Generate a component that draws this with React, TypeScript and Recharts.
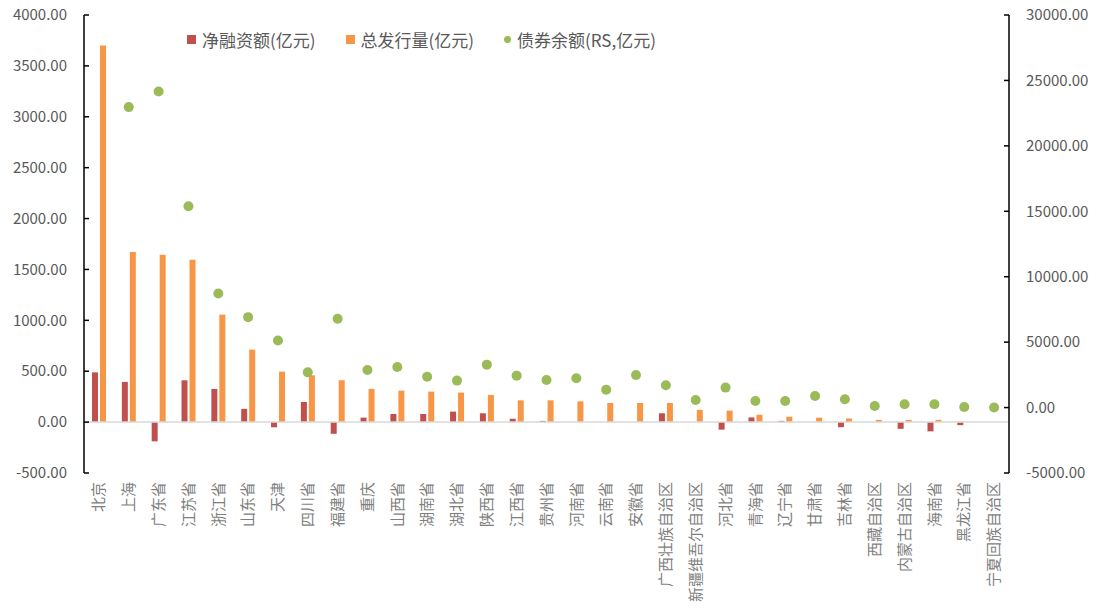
import {
    ComposedChart,
    Bar,
    Scatter,
    XAxis,
    YAxis,
    ReferenceLine,
} from 'recharts';

const categories = [
    '北京', '上海', '广东省', '江苏省', '浙江省', '山东省', '天津', '四川省', '福建省', '重庆',
    '山西省', '湖南省', '湖北省', '陕西省', '江西省', '贵州省', '河南省', '云南省', '安徽省',
    '广西壮族自治区', '新疆维吾尔自治区', '河北省', '青海省', '辽宁省', '甘肃省', '吉林省',
    '西藏自治区', '内蒙古自治区', '海南省', '黑龙江省', '宁夏回族自治区',
];

// 净融资额(亿元)
const netFinancing = [
    489, 395, -189, 411, 326, 130, -51, 198, -115, 44,
    80, 80, 103, 87, 34, 12, 0, 0, 0,
    87, 0, -74, 46, 12, 0, -50,
    0, -66, -91, -30, 0,
];

// 总发行量(亿元)
const totalIssuance = [
    3700, 1672, 1645, 1596, 1056, 712, 496, 460, 411, 326,
    309, 300, 290, 267, 214, 214, 204, 188, 188,
    188, 120, 113, 72, 53, 44, 36,
    22, 22, 22, 0, 0,
];

// 债券余额(RS,亿元)
const bondBalance = [
    null, 22960, 24150, 15380, 8720, 6910, 5130, 2690, 6790, 2870,
    3100, 2360, 2060, 3280, 2440, 2110, 2235, 1370, 2490,
    1700, 580, 1525, 505, 505, 890, 635,
    125, 250, 250, 50, 0,
];

const leftTicks = [-500, 0, 500, 1000, 1500, 2000, 2500, 3000, 3500, 4000];
const rightTicks = [-5000, 0, 5000, 10000, 15000, 20000, 25000, 30000];

const legendItems = [
    { name: '净融资额(亿元)', color: '#C0504D', shape: 'square' },
    { name: '总发行量(亿元)', color: '#F79646', shape: 'square' },
    { name: '债券余额(RS,亿元)', color: '#9BBB59', shape: 'circle' },
];

const data = categories.map((name, i) => ({
    name,
    net: netFinancing[i],
    total: totalIssuance[i],
    balance: bondBalance[i],
}));

const FONT = '"Noto Sans CJK SC", "Noto Sans", sans-serif';

const LeftTick = ({ x, y, payload }: any) => (
    <g>
        <line x1={x} x2={x + 5} y1={y} y2={y} stroke="#000" strokeWidth={1.5} />
        <text x={x - 17} y={y} dy="0.35em" textAnchor="end" fill="#595959" fontSize={15} fontFamily={FONT}>
            {Number(payload.value).toFixed(2)}
        </text>
    </g>
);

const RightTick = ({ x, y, payload }: any) => (
    <g>
        <line x1={x - 5} x2={x} y1={y} y2={y} stroke="#000" strokeWidth={1.5} />
        <text x={x + 17} y={y} dy="0.35em" textAnchor="start" fill="#595959" fontSize={15} fontFamily={FONT}>
            {Number(payload.value).toFixed(2)}
        </text>
    </g>
);

const CategoryTick = ({ x, y, payload }: any) => {
    const ty = y + 1;
    return (
        <text
            x={x}
            y={ty}
            dy="0.35em"
            transform={`rotate(-90, ${x}, ${ty})`}
            textAnchor="end"
            fill="#7F7F7F"
            fontSize={15}
            fontFamily={FONT}
        >
            {payload.value}
        </text>
    );
};

const BalanceDot = (props: any) => {
    if (props.payload == null || props.payload.balance == null) return null;
    return <circle cx={props.cx} cy={props.cy} r={5} fill="#9BBB59" />;
};

// legend drawn outside the chart so it doesn't push the plot down
const ChartLegend = () => (
    <div
        style={{
            position: 'absolute',
            top: 27,
            left: 187,
            display: 'flex',
            alignItems: 'center',
            fontFamily: FONT,
            fontSize: 17,
            color: '#595959',
            whiteSpace: 'nowrap',
        }}
    >
        {legendItems.map((item) => (
            <div key={item.name} style={{ display: 'flex', alignItems: 'center', marginRight: 30 }}>
                <span
                    style={{
                        display: 'inline-block',
                        width: item.shape === 'circle' ? 7 : 9,
                        height: item.shape === 'circle' ? 7 : 9,
                        borderRadius: item.shape === 'circle' ? '50%' : 0,
                        background: item.color,
                        marginRight: 6,
                    }}
                />
                <span>{item.name}</span>
            </div>
        ))}
    </div>
);

export default function App() {
    return (
        <div style={{ position: 'absolute', left: 0, top: 0, width: 1096, height: 616, background: '#fff' }}>
            <ComposedChart
                width={1096}
                height={616}
                data={data}
                margin={{ top: 15, right: 0, bottom: 0, left: 0 }}
                barSize={6}
                barGap={2}
            >
                <XAxis
                    dataKey="name"
                    height={143}
                    axisLine={false}
                    tickLine={false}
                    interval={0}
                    tick={<CategoryTick />}
                />
                <YAxis
                    yAxisId="left"
                    orientation="left"
                    width={84}
                    domain={[-500, 4000]}
                    ticks={leftTicks}
                    allowDataOverflow
                    axisLine={{ stroke: '#000', strokeWidth: 1.5 }}
                    tickLine={false}
                    tickSize={0}
                    tickMargin={0}
                    tick={<LeftTick />}
                />
                <YAxis
                    yAxisId="right"
                    orientation="right"
                    width={87}
                    domain={[-5000, 30000]}
                    ticks={rightTicks}
                    allowDataOverflow
                    axisLine={{ stroke: '#000', strokeWidth: 1.5 }}
                    tickLine={false}
                    tickSize={0}
                    tickMargin={0}
                    tick={<RightTick />}
                />
                <ReferenceLine y={0} yAxisId="left" stroke="#D9D9D9" strokeWidth={1.5} />
                <Bar dataKey="net" yAxisId="left" fill="#C0504D" isAnimationActive={false} />
                <Bar dataKey="total" yAxisId="left" fill="#F79646" isAnimationActive={false} />
                <Scatter dataKey="balance" yAxisId="right" shape={<BalanceDot />} isAnimationActive={false} />
            </ComposedChart>
            <ChartLegend />
        </div>
    );
}
